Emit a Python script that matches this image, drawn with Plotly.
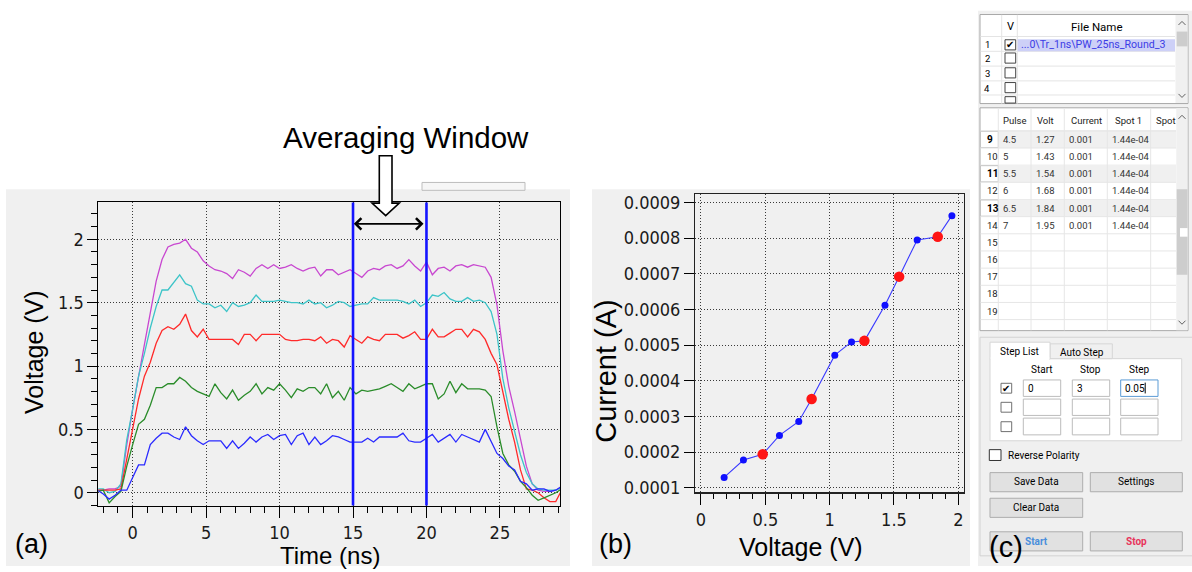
import plotly.graph_objects as go

W, H = 1192, 572

# ---------------- data: panel (a) pulse waveforms ----------------
time_ns = [-2.4, -2.0, -1.6, -1.2, -0.8, -0.4, 0.0, 0.4, 0.8, 1.2, 1.6, 2.0, 2.4, 2.8, 3.2, 3.6,
           4.0, 4.4, 4.8, 5.2, 5.6, 6.0, 6.4, 6.8, 7.2, 7.6, 8.0, 8.4, 8.8, 9.2, 9.6, 10.0,
           10.4, 10.8, 11.2, 11.6, 12.0, 12.4, 12.8, 13.2, 13.6, 14.0, 14.4, 14.8, 15.2, 15.6,
           16.0, 16.4, 16.8, 17.2, 17.6, 18.0, 18.4, 18.8, 19.2, 19.6, 20.0, 20.4, 20.8, 21.2,
           21.6, 22.0, 22.4, 22.8, 23.2, 23.6, 24.0, 24.4, 24.8, 25.2, 25.6, 26.0, 26.4, 26.8,
           27.2, 27.6, 28.0, 28.4, 28.8, 29.2]

v_magenta = [0.02, 0.02, 0.03, 0.03, 0.05, 0.38, 0.66, 0.90, 1.17, 1.42,
             1.67, 1.84, 1.94, 1.96, 1.97, 2.00, 1.93, 1.90, 1.83, 1.79,
             1.76, 1.75, 1.73, 1.69, 1.76, 1.74, 1.71, 1.77, 1.80, 1.77,
             1.80, 1.77, 1.78, 1.80, 1.77, 1.75, 1.77, 1.78, 1.71, 1.76,
             1.76, 1.72, 1.74, 1.76, 1.73, 1.70, 1.75, 1.77, 1.76, 1.79,
             1.80, 1.77, 1.79, 1.84, 1.79, 1.75, 1.82, 1.72, 1.77, 1.78,
             1.75, 1.79, 1.80, 1.78, 1.80, 1.79, 1.78, 1.70, 1.48, 1.12,
             0.84, 0.64, 0.43, 0.21, 0.07, 0.02, 0.01, 0.01, 0.02, 0.05]
v_cyan = [0.03, 0.03, 0.00, 0.01, 0.07, 0.42, 0.66, 0.92, 1.10, 1.30,
          1.47, 1.60, 1.60, 1.66, 1.72, 1.65, 1.63, 1.52, 1.49, 1.49,
          1.46, 1.48, 1.43, 1.50, 1.47, 1.48, 1.50, 1.56, 1.51, 1.51,
          1.51, 1.52, 1.51, 1.50, 1.50, 1.49, 1.52, 1.49, 1.50, 1.46,
          1.48, 1.51, 1.50, 1.47, 1.48, 1.49, 1.49, 1.54, 1.52, 1.52,
          1.52, 1.52, 1.51, 1.49, 1.52, 1.47, 1.50, 1.56, 1.55, 1.58,
          1.53, 1.51, 1.51, 1.54, 1.51, 1.52, 1.50, 1.43, 1.25, 0.90,
          0.67, 0.49, 0.30, 0.16, 0.07, 0.03, 0.02, 0.02, 0.02, 0.04]
v_red = [0.02, 0.02, 0.02, 0.02, 0.03, 0.27, 0.53, 0.74, 0.92, 1.03,
         1.18, 1.28, 1.31, 1.29, 1.33, 1.41, 1.28, 1.23, 1.29, 1.21,
         1.21, 1.21, 1.21, 1.21, 1.17, 1.25, 1.25, 1.20, 1.25, 1.25,
         1.25, 1.25, 1.21, 1.20, 1.20, 1.21, 1.21, 1.20, 1.23, 1.18,
         1.21, 1.20, 1.15, 1.24, 1.21, 1.18, 1.23, 1.21, 1.20, 1.25,
         1.25, 1.25, 1.22, 1.24, 1.27, 1.21, 1.21, 1.29, 1.23, 1.23,
         1.26, 1.29, 1.29, 1.23, 1.29, 1.27, 1.21, 1.10, 1.01, 0.80,
         0.58, 0.40, 0.18, 0.03, 0.02, 0.00, -0.04, -0.07, -0.07, 0.02]
v_green = [0.01, 0.02, -0.08, -0.03, 0.01, 0.21, 0.38, 0.54, 0.58, 0.69,
           0.83, 0.83, 0.86, 0.86, 0.91, 0.88, 0.83, 0.80, 0.78, 0.76,
           0.86, 0.79, 0.74, 0.81, 0.73, 0.77, 0.80, 0.86, 0.78, 0.83,
           0.81, 0.86, 0.81, 0.75, 0.82, 0.80, 0.83, 0.83, 0.78, 0.86,
           0.75, 0.80, 0.73, 0.83, 0.78, 0.81, 0.80, 0.81, 0.82, 0.84,
           0.86, 0.83, 0.80, 0.86, 0.82, 0.84, 0.86, 0.86, 0.74, 0.78,
           0.88, 0.79, 0.86, 0.82, 0.82, 0.82, 0.81, 0.76, 0.52, 0.31,
           0.22, 0.17, 0.09, 0.04, -0.02, -0.06, -0.04, -0.02, 0.00, 0.03]
v_blue = [0.02, -0.01, -0.05, -0.02, 0.02, 0.02, 0.12, 0.22, 0.22, 0.38,
          0.43, 0.47, 0.47, 0.44, 0.42, 0.52, 0.45, 0.41, 0.38, 0.41,
          0.41, 0.41, 0.35, 0.41, 0.35, 0.39, 0.44, 0.40, 0.44, 0.46,
          0.42, 0.45, 0.46, 0.38, 0.45, 0.47, 0.38, 0.44, 0.38, 0.41,
          0.45, 0.44, 0.42, 0.40, 0.40, 0.40, 0.43, 0.40, 0.44, 0.44,
          0.44, 0.44, 0.47, 0.41, 0.40, 0.40, 0.43, 0.46, 0.40, 0.43,
          0.46, 0.40, 0.46, 0.44, 0.42, 0.40, 0.50, 0.41, 0.31, 0.27,
          0.21, 0.18, 0.09, 0.07, 0.02, 0.03, 0.03, 0.01, 0.02, 0.05]

wave_series = [v_magenta, v_cyan, v_red, v_green, v_blue]
wave_colors = ["#c847d0", "#3cc4c8", "#ff2a2a", "#2a8c2a", "#2a2aff"]

window_ns = [15, 20]            # averaging window edges
window_arrow_v = 2.122          # height of the window arrow (V)

# ---------------- data: panel (b) I-V ----------------
iv_volt = [0.18, 0.33, 0.48, 0.61, 0.76, 0.86, 1.04, 1.17, 1.27, 1.43, 1.54, 1.68, 1.84, 1.95]
iv_current = [0.000129, 0.000178, 0.000194, 0.000247, 0.000286, 0.000349, 0.000472,
              0.000509, 0.000512, 0.000612, 0.000692, 0.000795, 0.000804, 0.000863]
iv_highlight = [2, 5, 8, 10, 12]

# ---------------- data: panel (c) GUI tables ----------------
table_rows = ["9", "10", "11", "12", "13", "14", "15", "16", "17", "18", "19"]
table_pulse = ["4.5", "5", "5.5", "6", "6.5", "7"]
table_volt = ["1.27", "1.43", "1.54", "1.68", "1.84", "1.95"]
table_current = ["0.001", "0.001", "0.001", "0.001", "0.001", "0.001"]
table_spot = ["1.44e-04", "1.44e-04", "1.44e-04", "1.44e-04", "1.44e-04", "1.44e-04"]
step_values = ["0", "3", "0.05"]
file_name = "...0\\Tr_1ns\\PW_25ns_Round_3"

# ---------------- helpers ----------------
def X(px):
    return px / W


def Y(py):
    return 1 - py / H


shapes = []
annotations = []
GUI = "Roboto, Noto Sans, sans-serif"
ARIAL = "Liberation Sans, Arial, sans-serif"
TICK = "DejaVu Sans Condensed, DejaVu Sans, sans-serif"


def rect(x0, y0, x1, y1, fill=None, line=None, lw=1, layer="above"):
    shapes.append(dict(type="rect", xref="paper", yref="paper",
                       x0=X(x0), x1=X(x1), y0=Y(y1), y1=Y(y0),
                       fillcolor=fill if fill else "rgba(0,0,0,0)",
                       line=dict(color=line if line else "rgba(0,0,0,0)",
                                 width=lw if line else 0),
                       layer=layer))


def hline(x0, x1, y, color, w=1):
    shapes.append(dict(type="line", xref="paper", yref="paper",
                       x0=X(x0), x1=X(x1), y0=Y(y), y1=Y(y),
                       line=dict(color=color, width=w), layer="above"))


def vline(x, y0, y1, color, w=1):
    shapes.append(dict(type="line", xref="paper", yref="paper",
                       x0=X(x), x1=X(x), y0=Y(y0), y1=Y(y1),
                       line=dict(color=color, width=w), layer="above"))


def poly(points, color, w=1, fill=None, closed=False):
    d = "M " + " L ".join(f"{X(px):.6f},{Y(py):.6f}" for px, py in points)
    if closed:
        d += " Z"
    shapes.append(dict(type="path", xref="paper", yref="paper", path=d,
                       line=dict(color=color, width=w),
                       fillcolor=fill if fill else "rgba(0,0,0,0)", layer="above"))


def chevron(cx, cy, up=True):
    s = -1 if up else 1
    poly([(cx - 3.5, cy - 1.8 * s), (cx, cy + 1.8 * s), (cx + 3.5, cy - 1.8 * s)], "#606060", 1)


def txt(x, y, s, size, color="#000000", xanchor="left", family=GUI):
    annotations.append(dict(xref="paper", yref="paper", x=X(x), y=Y(y), text=s,
                            showarrow=False, xanchor=xanchor, yanchor="middle",
                            font=dict(size=size, color=color, family=family)))


# ---------------- backgrounds ----------------
rect(6, 190, 570, 572, fill="#f0f0f0", layer="below")
rect(592, 190, 970, 572, fill="#f0f0f0", layer="below")
rect(422, 183, 525, 191, fill="#f6f6f6", line="#bdbdbd", layer="below")

# ---------------- figure ----------------
fig = go.Figure()

for vals, col in zip(wave_series, wave_colors):
    fig.add_trace(go.Scatter(x=time_ns, y=vals, mode="lines", xaxis="x", yaxis="y",
                             line=dict(color=col, width=1.3), hoverinfo="skip"))

for t in window_ns:
    shapes.append(dict(type="line", xref="x", yref="y domain", x0=t, x1=t, y0=0, y1=1,
                       line=dict(color="#1414ff", width=2.6), layer="above"))

annotations.append(dict(xref="x", yref="y", axref="x", ayref="y",
                        x=window_ns[1] - 0.2, y=window_arrow_v,
                        ax=window_ns[0] - 0.05, ay=window_arrow_v,
                        text="", showarrow=True, arrowside="end+start",
                        arrowhead=4, startarrowhead=4, arrowsize=1.4, startarrowsize=1.4,
                        arrowwidth=1.6, arrowcolor="black"))

# hollow down arrow and caption
poly([(379.3, 156), (392, 156), (392, 204), (399.3, 204), (385.7, 216.7),
      (372, 204), (379.3, 204)], "black", 1.6, fill="white", closed=True)
txt(406, 137, "Averaging Window", 29.5, "#000", "center", ARIAL)

# panel (b)
hl_v = [iv_volt[i] for i in iv_highlight]
hl_c = [iv_current[i] for i in iv_highlight]
fig.add_trace(go.Scatter(x=iv_volt, y=iv_current, mode="lines+markers", xaxis="x2", yaxis="y2",
                         line=dict(color="#3a3aff", width=1.1),
                         marker=dict(color="#1010ff", size=7), hoverinfo="skip"))
fig.add_trace(go.Scatter(x=hl_v, y=hl_c, mode="markers", xaxis="x2", yaxis="y2",
                         marker=dict(color="#ff1414", size=10.5), hoverinfo="skip"))

# axis titles & panel labels
txt(34, 355, "Voltage (V)", 25, "#000", "center", ARIAL)
annotations[-1]["textangle"] = -90
txt(330, 561, "Time (ns)", 24, "#000", "center", ARIAL)
annotations[-1]["borderpad"] = 0
txt(606, 375, "Current (A)", 29, "#000", "center", ARIAL)
annotations[-1]["textangle"] = -90
txt(801, 553, "Voltage (V)", 25, "#000", "center", ARIAL)
txt(31, 550, "(a)", 27, "#000", "center", ARIAL)
txt(615, 550, "(b)", 27, "#000", "center", ARIAL)

# ---------------- panel (c): GUI ----------------
rect(978, 9, 1192, 572, fill="#f0f0f0")

# file table
rect(980, 12.7, 1188, 103, fill="white", line="#a8a8a8")
for yy in [35, 50, 65, 80, 94.3]:
    hline(980.5, 1175, yy, "#e4e4e4")
vline(1001.7, 13, 103, "#e4e4e4")
vline(1017.3, 13, 103, "#e4e4e4")
rect(1017.7, 37.7, 1175, 50, fill="#cdd0f7")
for y0 in [38.3, 51.7, 66.7, 81.7]:
    rect(1005, y0, 1015.7, y0 + 10.3, fill="white", line="#444444", lw=1)
rect(1005, 96, 1015.7, 102.5, fill="white", line="#444444", lw=1)
txt(1010.4, 43.6, "✔", 10, "#000", "center", "DejaVu Sans")
txt(1010.7, 25, "V", 11, "#000", "center")
txt(1096.7, 25, "File Name", 11.5, "#000", "center")
for lab, yy in zip(["1", "2", "3", "4"], [43.3, 57.3, 72.3, 87.3]):
    txt(987.3, yy, lab, 9.5, "#000", "center")
txt(1019, 43.6, file_name, 10.6, "#3c3ce6", "left")
rect(1175.5, 13.2, 1187.5, 102.5, fill="#f0f0f0")
rect(1176.7, 30, 1187.5, 45, fill="#cdcdcd")
chevron(1182, 21.5, True)
chevron(1182, 95, False)

# data table
rect(980, 107.3, 1188, 333.3, fill="white", line="#a8a8a8")
row_top0, row_h = 130.7, 17.4
for i, lab in enumerate(table_rows):
    top = row_top0 + row_h * i
    if lab in ("9", "11", "13"):
        rect(998.3, top, 1176, top + row_h, fill="#f0f0f0")
        rect(980.5, top + 0.5, 998.3, top + row_h - 0.5, fill="white", line="#c4c4c4")
        txt(985, top + row_h / 2, "<b>" + lab + "</b>", 10, "#000", "left")
    else:
        txt(985, top + row_h / 2, lab, 9.5, "#222", "left")
    hline(980.5, 1176, top + row_h, "#e6e6e6")
hline(980.5, 1176, row_top0, "#e0e0e0")
for xx in [998.3, 1031, 1064.3, 1107.3, 1150.7]:
    vline(xx, 107.8, 333, "#e6e6e6")
for s, xx in zip(["Pulse", "Volt", "Current", "Spot 1"], [1014.3, 1045, 1086, 1128.3]):
    txt(xx, 120, s, 9.5, "#222", "center")
txt(1153.5, 120, "Spot", 9.5, "#222", "left")
for i in range(len(table_pulse)):
    yy = row_top0 + row_h * i + row_h / 2
    txt(1000.5, yy, table_pulse[i], 9.5, "#333", "left")
    txt(1033.8, yy, table_volt[i], 9.5, "#333", "left")
    txt(1067.2, yy, table_current[i], 9.5, "#333", "left")
    txt(1109.5, yy, table_spot[i], 9.5, "#333", "left")
rect(1176.3, 107.8, 1187.5, 332.8, fill="#f0f0f0")
rect(1176.7, 190, 1187.5, 276.7, fill="#cdcdcd")
rect(1180, 229.3, 1187.5, 238, fill="white")
chevron(1182, 116.7, True)
chevron(1182, 325, False)

# step group
hline(980, 1192, 340, "#d2d2d2")
vline(980, 340, 561.7, "#d2d2d2")
hline(980, 1192, 561.7, "#d2d2d2")
rect(990, 361.7, 1181.7, 445, fill="white", line="#d6d6d6")
rect(1050, 346.7, 1112.3, 361.7, fill="#f0f0f0", line="#d6d6d6")
rect(990, 345, 1050, 362.3, fill="white", line="#d6d6d6")
rect(990.6, 360.6, 1049.4, 363, fill="white")
txt(1019.3, 354, "Step List", 10, "#000", "center")
txt(1081.7, 355, "Auto Step", 10, "#000", "center")
for s, xx in zip(["Start", "Stop", "Step"], [1041.7, 1090, 1139]):
    txt(xx, 372.7, s, 10, "#000", "center")
for y0 in [386.7, 406, 425.7]:
    rect(1001, y0, 1011.7, y0 + 10, fill="white", line="#707070")
txt(1006.4, 391.5, "✔", 10, "#000", "center", "DejaVu Sans")
cols = [(1023.3, 1060.7), (1072.3, 1109.7), (1120.7, 1158)]
rows = [(383.3, 400), (402.7, 419.3), (422, 439)]
for ri, (y0, y1) in enumerate(rows):
    for ci, (x0, x1) in enumerate(cols):
        focused = (ri == 0 and ci == 2)
        rect(x0, y0, x1, y1, fill="white", line="#5b9bd5" if focused else "#bcbcbc")
for s, (x0, x1) in zip(step_values, cols):
    txt(x0 + 2.5, 391.7, s, 10, "#000", "left")
vline(1145.2, 386, 397, "#000", 1)

rect(989.3, 454, 1001, 465, fill="white", line="#333333")
txt(1005.5, 459.5, "Reverse Polarity", 10, "#000", "left")

buttons = [(990, 477.3, 1082.7, 496.7, "Save Data", "#000"),
           (1090.3, 477.3, 1182.3, 496.7, "Settings", "#000"),
           (990, 503.3, 1082.7, 522.7, "Clear Data", "#000"),
           (990, 537.3, 1082.7, 556.7, "<b>Start</b>", "#4a8fdc"),
           (1090.3, 537.3, 1182.3, 556.7, "<b>Stop</b>", "#e8345c")]
for x0, y0, x1, y1, s, c in buttons:
    rect(x0, y0, x1, y1, fill="#e1e1e1", line="#adadad")
    txt((x0 + x1) / 2, (y0 + y1) / 2 - 0.3, s, 10, c, "center")

txt(1006, 553, "(c)", 29, "#000", "center", ARIAL)

# ---------------- layout ----------------
tickfont = dict(family=TICK, size=18, color="#1a1a1a")
grid = dict(showgrid=True, gridcolor="#3a3a3a", gridwidth=1, griddash="1px,2px", zeroline=False)

fig.update_layout(
    width=W, height=H, autosize=False,
    margin=dict(l=0, r=0, t=0, b=0),
    paper_bgcolor="white", plot_bgcolor="white",
    showlegend=False, hovermode=False,
    xaxis=dict(domain=[X(98.3), X(560)], range=[-2.34, 29.09], anchor="y",
               tickmode="linear", tick0=0, dtick=5, ticks="outside", ticklen=11,
               tickcolor="black", showline=True, linecolor="black", linewidth=1, mirror=True,
               tickfont=tickfont,
               minor=dict(tick0=0, dtick=1, ticks="outside", ticklen=6, tickcolor="black",
                          showgrid=False), **grid),
    yaxis=dict(domain=[Y(510.7), Y(203.3)], range=[-0.1012, 2.291], anchor="x",
               tickmode="linear", tick0=0, dtick=0.5, ticks="outside", ticklen=10,
               tickcolor="black", showline=True, linecolor="black", linewidth=1, mirror=True,
               tickfont=tickfont,
               minor=dict(tick0=0, dtick=0.1, ticks="outside", ticklen=6, tickcolor="black",
                          showgrid=False), **grid),
    xaxis2=dict(domain=[X(695.3), X(964)], range=[-0.044, 2.044], anchor="y2",
                tickmode="linear", tick0=0, dtick=0.5, ticks="outside", ticklen=11,
                tickcolor="black", showline=True, linecolor="#222", linewidth=1.3, mirror=True,
                tickfont=tickfont,
                minor=dict(tick0=0, dtick=0.1, ticks="outside", ticklen=5, tickcolor="black",
                           showgrid=False), **grid),
    yaxis2=dict(domain=[Y(497.3), Y(194.7)], range=[0.0000873, 0.0009238], anchor="x2",
                tickmode="linear", tick0=0, dtick=0.0001, tickformat=".4f", ticks="outside",
                ticklen=10, tickcolor="black", showline=True, linecolor="#222", linewidth=1.3,
                mirror=True, tickfont=tickfont, **grid),
    shapes=shapes,
    annotations=annotations,
)

fig.write_html(
    "out.html",
    config={"displayModeBar": False, "staticPlot": True},
    post_script=("document.documentElement.style.margin='0px';"
                 "document.documentElement.style.overflow='hidden';"
                 "document.body.style.margin='0px';"
                 "document.body.style.padding='0px';"
                 "document.body.style.overflow='hidden';"
                 "var gd=document.querySelector('.plotly-graph-div');"
                 "gd.style.position='fixed';gd.style.left='0px';gd.style.top='0px';"),
)
